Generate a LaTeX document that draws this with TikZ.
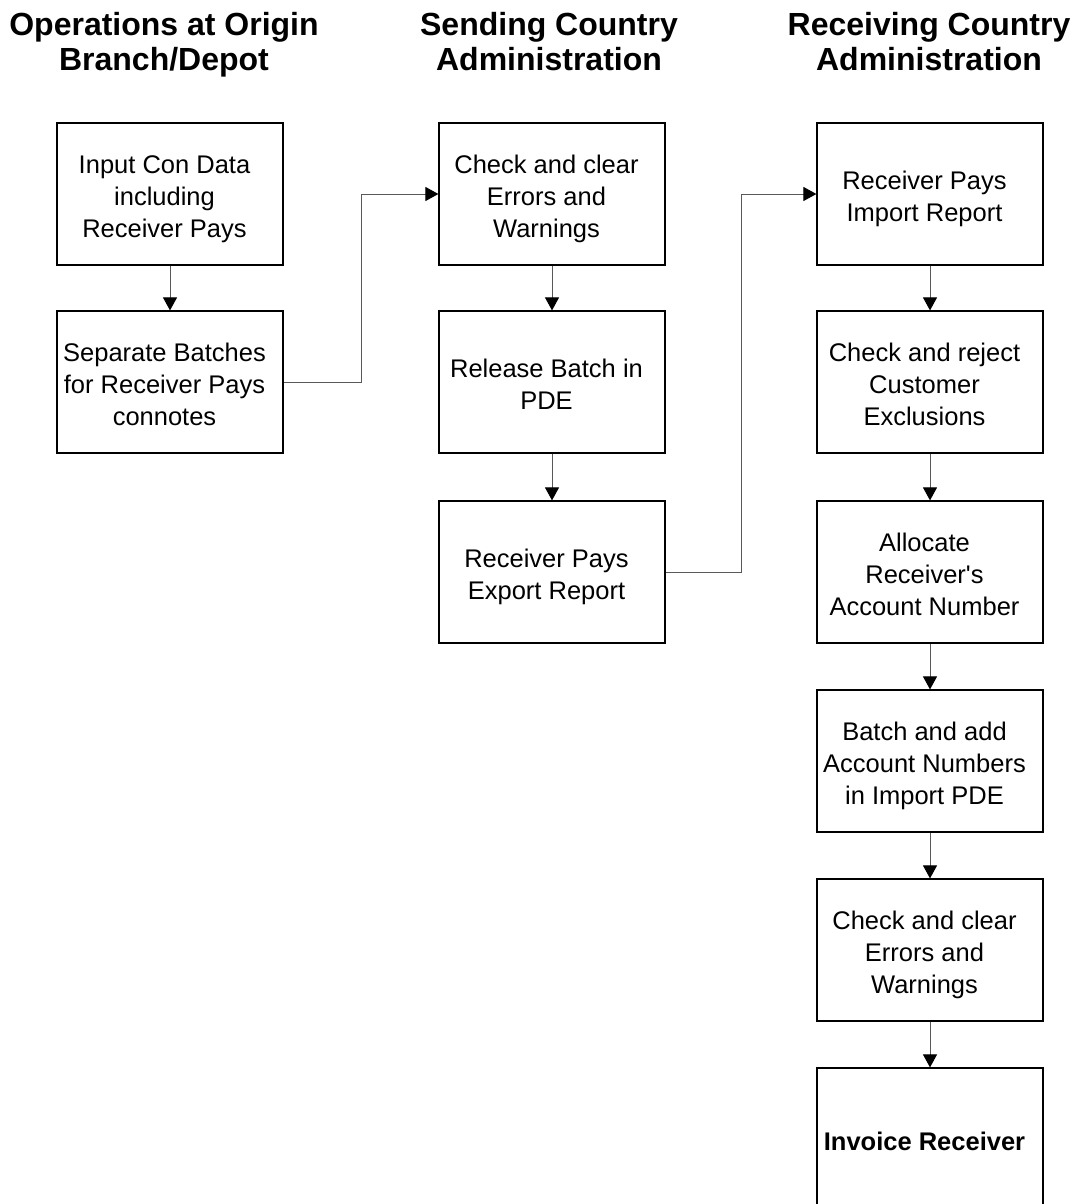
\documentclass[tikz,border=0pt]{standalone}
\usepackage{fontspec}
\setmainfont{Liberation Sans}[Ligatures=TeXOff]
\usetikzlibrary{arrows.meta}
\tikzset{
  stepbox/.style={draw=black, line width=1.2pt, fill=white,
    text width=226pt, minimum height=142pt, inner sep=0pt,
    align=flush center, font=\fontsize{25.5}{32}\selectfont,
    execute at begin node={\leftskip=0pt plus 1fil\rightskip=11pt plus 1fil
      \parfillskip=0pt\rule{0pt}{30pt}},
    execute at end node={\rule[-7pt]{0pt}{7pt}}},
  heading/.style={align=center, inner sep=0pt, anchor=north,
    font=\fontsize{32}{35}\selectfont\bfseries,
    execute at begin node={\rule{0pt}{24pt}}},
  conn/.style={draw=black!65, line width=1pt,
    -{Triangle[width=14pt,length=13pt,color=black]}},
}
\begin{document}
\begin{tikzpicture}[x=1pt,y=-1pt]
\useasboundingbox (0,0) rectangle (1080,1204);
\clip (0,0) rectangle (1080,1204);
\fill[white] (0,0) rectangle (1080,1204);

% column headings
\node[heading] (h1) at (164,12) {Operations at Origin\\Branch/Depot};
\node[heading] (h2) at (549,12) {Sending Country\\Administration};
\node[heading] (h3) at (929,12) {Receiving Country\\Administration};

% origin branch / depot
\node[stepbox] (a1) at (170,194) {Input Con Data\\including\\Receiver Pays};
\node[stepbox] (a2) at (170,382) {Separate Batches\\for Receiver Pays\\connotes};

% sending country
\node[stepbox] (b1) at (552,194) {Check and clear\\Errors and\\Warnings};
\node[stepbox] (b2) at (552,382) {Release Batch in\\PDE};
\node[stepbox] (b3) at (552,572) {Receiver Pays\\Export Report};

% receiving country
\node[stepbox] (c1) at (930,194) {Receiver Pays\\Import Report};
\node[stepbox] (c2) at (930,382) {Check and reject\\Customer\\Exclusions};
\node[stepbox] (c3) at (930,572) {Allocate\\Receiver's\\Account Number};
\node[stepbox] (c4) at (930,761) {Batch and add\\Account Numbers\\in Import PDE};
\node[stepbox] (c5) at (930,950) {Check and clear\\Errors and\\Warnings};
\node[stepbox] (c6) at (930,1139) {\bfseries Invoice Receiver};

% routing columns for the cross-column links
\coordinate (j1) at (361,0);
\coordinate (j2) at (741,0);

% flow
\draw[conn] (a1.south) -- (a2.north);
\draw[conn] (a2.east) -- (a2.east -| j1) |- (b1.west);
\draw[conn] (b1.south) -- (b2.north);
\draw[conn] (b2.south) -- (b3.north);
\draw[conn] (b3.east) -- (b3.east -| j2) |- (c1.west);
\draw[conn] (c1.south) -- (c2.north);
\draw[conn] (c2.south) -- (c3.north);
\draw[conn] (c3.south) -- (c4.north);
\draw[conn] (c4.south) -- (c5.north);
\draw[conn] (c5.south) -- (c6.north);
\end{tikzpicture}
\end{document}
